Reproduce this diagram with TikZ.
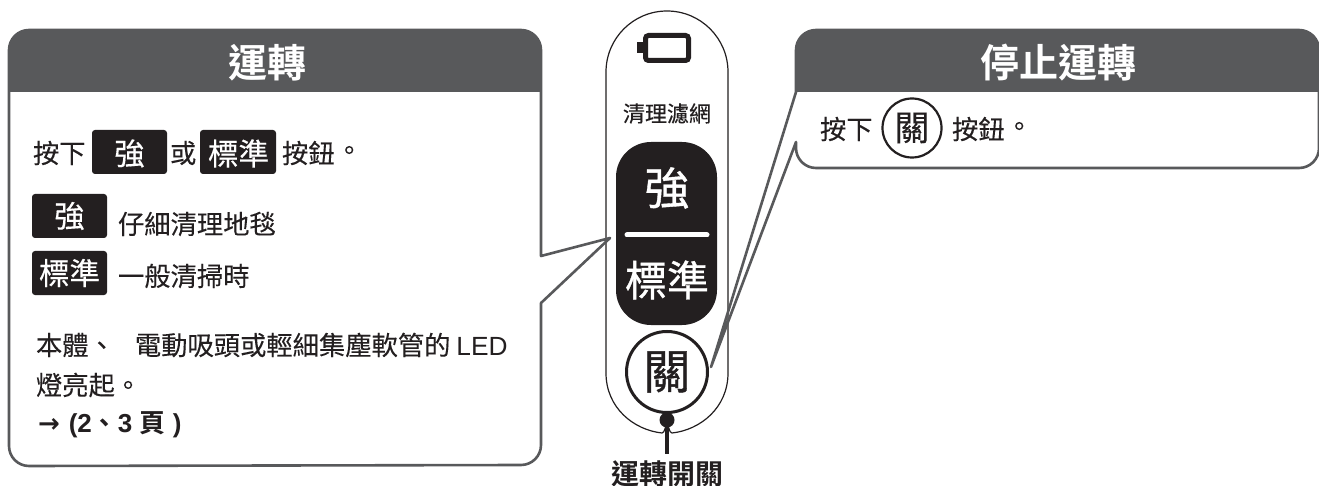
\documentclass[tikz,border=0pt]{standalone}
\usepackage{fontspec}
\setmainfont{Liberation Sans}
\newfontfamily\cjk[FakeBold=0.12]{Noto Sans CJK TC}
\newfontfamily\cjkb{Noto Sans CJK TC Bold}
\newfontfamily\cjkm[FakeBold=0.35]{Noto Sans CJK TC}
\newfontfamily\cjkh[FakeBold=0.8]{Noto Sans CJK TC}
\newfontfamily\arrowfont{DejaVu Sans Bold}
\definecolor{headgray}{HTML}{58595B}
\definecolor{btnblack}{HTML}{231F20}
\newcommand{\fs}[1]{\fontsize{#1}{#1}\selectfont}
\tikzset{
  txt/.style={inner sep=0pt,outer sep=0pt,text=btnblack,font=\fs{26.3}\cjk},
  txtw/.style={txt,anchor=west},
  title/.style={inner sep=0pt,text=white,font=\fs{39}\cjkb},
  btn/.style={fill=btnblack,rounded corners=3pt,draw=none},
  btnlab/.style={inner sep=0pt,text=white,font=\fs{30.5}\cjkm},
  outline/.style={draw=headgray,line width=2.6pt,line join=round},
}
\begin{document}
\begin{tikzpicture}[x=1pt,y=-1pt]
\useasboundingbox (0,0) rectangle (1319,486);
\fill[white] (0,0) rectangle (1319,486);
% control panel
\draw[btnblack,line width=1.2pt,fill=white]
  (606,72) arc[start angle=180,end angle=360,radius=61] -- (728,373)
  .. controls (728,408) and (700,430) .. (672,433) .. controls (669,433) and (669,425) .. (667,425)
  .. controls (665,425) and (665,433) .. (662,433) .. controls (634,430) and (606,408) .. (606,373) -- cycle;
% battery icon
\draw[btnblack,line width=5pt,rounded corners=3pt] (645.5,35.5) rectangle (688.5,60.5);
\fill[btnblack] (637,42) rectangle (644,53);
\node[txt,font=\fs{22}\cjkm] (filter) at (667,113.5) {清理濾網};
% mode button
\fill[btnblack,rounded corners=35pt] (616,142) rectangle (717,325);
\node[btnlab,font=\fs{45}\cjkh] (strong) at (667,188) {強};
\draw[white,line width=5pt,line cap=round] (627,235) -- (707,235);
\node[btnlab,font=\fs{42}\cjkh] (std) at (667,280) {標準};
% off button
\node[circle,draw=btnblack,line width=3pt,fill=white,minimum size=81pt,inner sep=0pt,font=\fs{47}\cjkh,text=btnblack] (off) at (667,372) {關};
\node[circle,fill=btnblack,minimum size=15pt,inner sep=0pt] (dot) at (667,420) {};
\node[txt,font=\fs{28}\cjkb] (switch) at (667,473.5) {運轉開關};
\draw[btnblack,line width=4pt] (dot.center) -- (667,454);
% left callout
\fill[white] (30,30) -- (520,30) -- (541,50) -- (541,256) -- (610,238) -- (541,303) -- (541,445) -- (520,466) -- (30,466) -- (9,445) -- (9,50) -- cycle;
\fill[headgray] (9,92) -- (9,50) arc[start angle=180,end angle=270,radius=20] -- (521,30) arc[start angle=270,end angle=360,radius=20] -- (541,92) -- cycle;
\draw[outline] (9,92) -- (9,50) arc[start angle=180,end angle=270,radius=20] -- (521,30) arc[start angle=270,end angle=360,radius=20]
  -- (541,256) -- (610,238) -- (541,303) -- (541,445) arc[start angle=0,end angle=90,radius=20] -- (29,466) arc[start angle=90,end angle=180,radius=20] -- cycle;
\node[title] (t1) at (267,63) {運轉};
\node[txtw] (l1a) at (33,153) {按下};
\fill[btn] (92,130) rectangle (167,174);
\node[btnlab] (l1b) at (129.5,153.5) {強};
\node[txtw] (l1c) at (170,153) {或};
\fill[btn] (200,130) rectangle (276,174);
\node[btnlab] (l1d) at (238.5,153.5) {標準};
\node[txtw] (l1e) at (282,153) {按鈕};
\node[txtw] (l1f) at (336,153) {。};
\fill[btn] (32,194) rectangle (107,238);
\node[btnlab] (l2a) at (69.5,216) {強};
\node[txtw] (l2b) at (118,224) {仔細清理地毯};
\fill[btn] (32,251) rectangle (107,295);
\node[btnlab] (l3a) at (69.5,273) {標準};
\node[txtw] (l3b) at (118,276) {一般清掃時};
\node[txtw] (p1) at (36,345) {本體、\hspace{20pt}電動吸頭或輕細集塵軟管的 {\rmfamily LED}};
\node[txtw] (p2) at (36,385) {燈亮起。};
\node[txtw,font=\fs{26}\cjkb] (p3) at (38,425) {{\arrowfont→}\hspace{9pt}{\rmfamily\bfseries (2}、{\rmfamily\bfseries 3 }頁{\rmfamily\bfseries\ )}};
% right callout
\fill[white] (796,92) rectangle (1319,165);
\fill[headgray] (796,92) -- (796,50) arc[start angle=180,end angle=270,radius=20] -- (1299,30) arc[start angle=270,end angle=360,radius=20] -- (1319,92) -- cycle;
\draw[outline] (1319,148) arc[start angle=0,end angle=90,radius=20] -- (816,168) arc[start angle=90,end angle=180,radius=20] -- (796,142) -- (711,367) -- (796,92) -- (796,50) arc[start angle=180,end angle=270,radius=20] -- (1299,30) arc[start angle=270,end angle=360,radius=20] -- (1319,148);
\node[title] (t2) at (1058,63) {停止運轉};
\node[txtw] (r1) at (820,129) {按下};
\node[circle,draw=btnblack,line width=2.2pt,minimum size=59pt,inner sep=0pt,font=\fs{35}\cjkm,text=btnblack] (roff) at (912,128) {關};
\node[txtw] (r2) at (952,129) {按鈕};
\node[txtw] (r3) at (1006,129) {。};
\end{tikzpicture}
\end{document}
